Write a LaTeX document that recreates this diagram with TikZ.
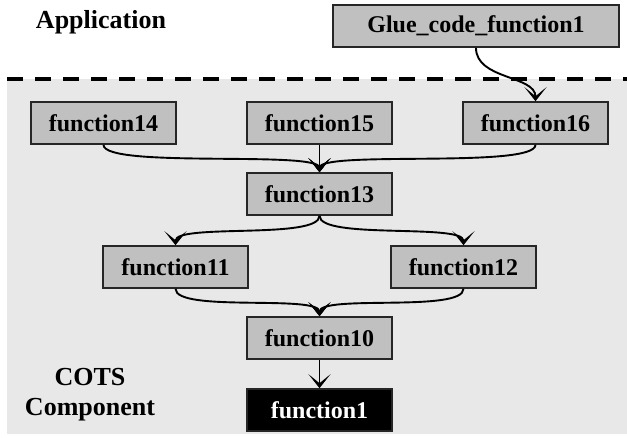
\documentclass[tikz,border=0pt]{standalone}
\usepackage{fontspec}
\setmainfont{Liberation Serif}
\usetikzlibrary{arrows.meta}
\definecolor{boxgray}{HTML}{C0C0C0}
\definecolor{areagray}{HTML}{E8E8E8}

\begin{document}
\begin{tikzpicture}[x=1pt, y=-1pt,
    func/.style={draw=black!85, line width=1.6pt, fill=boxgray, minimum width=145pt, minimum height=42pt, inner sep=0pt, font=\fontsize{24}{28}\selectfont\bfseries},
    call/.style={-{Stealth[length=14pt, width=22pt, inset=9pt]}, line width=1.9pt},
    zone/.style={align=center, font=\fontsize{26}{30}\selectfont\bfseries}]
    \useasboundingbox (0,0) rectangle (627,437);

    % COTS area and border
    \fill[areagray] (7,79) rectangle (627,434);
    \draw[line width=4pt, dash pattern=on 16pt off 12pt] (7,79) -- (627,79);

    % Zone labels
    \node[zone] (app) at (101,22) {Application};
    \node[zone] (cots) at (90,395) {COTS\\Component};

    % Glue code
    \node[func, minimum width=286pt] (glue) at (476,26) {Glue\_code\_function1};

    % Top row
    \node[func] (f14) at (103.5,123) {function14};
    \node[func] (f15) at (319.5,123) {function15};
    \node[func] (f16) at (535.5,123) {function16};

    % Middle
    \node[func] (f13) at (319.5,194) {function13};
    \node[func] (f11) at (175.5,267) {function11};
    \node[func] (f12) at (463.5,267) {function12};
    \node[func] (f10) at (319.5,338) {function10};

    % Entry point of the component
    \node[func, fill=black, text=white] (f1) at (319.5,410) {function1};

    % Calls
    \draw[call] (glue.south) .. controls +(0,32) and +(0,-26) .. (f16.north);
    \draw[call] (f14.south) .. controls +(0,24) and +(0,-22) .. (f13.north);
    \draw[call] (f15) -- (f13);
    \draw[call] (f16.south) .. controls +(0,24) and +(0,-22) .. (f13.north);
    \draw[call] (f13.south) .. controls +(0,24) and +(0,-22) .. (f11.north);
    \draw[call] (f13.south) .. controls +(0,24) and +(0,-22) .. (f12.north);
    \draw[call] (f11.south) .. controls +(0,24) and +(0,-22) .. (f10.north);
    \draw[call] (f12.south) .. controls +(0,24) and +(0,-22) .. (f10.north);
    \draw[call] (f10) -- (f1);
\end{tikzpicture}
\end{document}
